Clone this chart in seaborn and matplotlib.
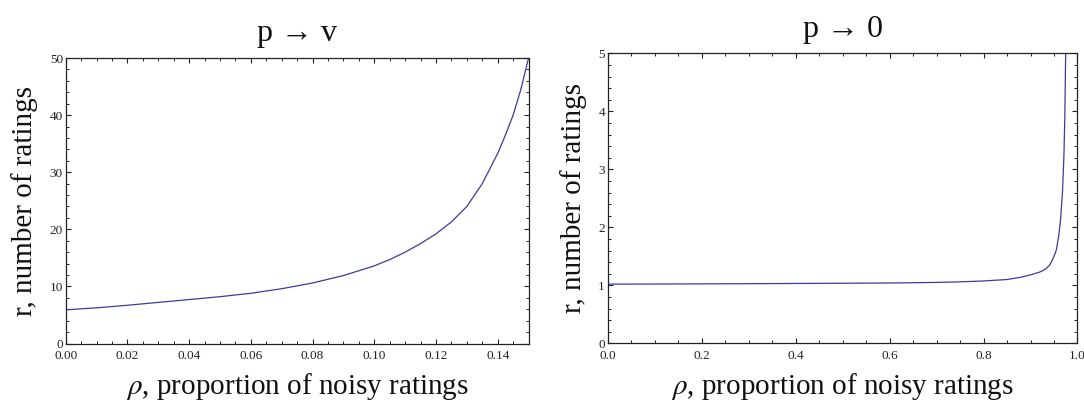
import numpy as np
import pandas as pd
import matplotlib
matplotlib.use("Agg")
import matplotlib.pyplot as plt
import seaborn as sns
from matplotlib.ticker import MultipleLocator, FormatStrFormatter

# ---- data ----
rho_left = [0.0, 0.01, 0.02, 0.03, 0.04, 0.05, 0.06, 0.07, 0.08, 0.09, 0.10,
            0.105, 0.11, 0.115, 0.12, 0.125, 0.13, 0.135, 0.14, 0.1425,
            0.145, 0.1475, 0.15]
r_left = [5.9, 6.25, 6.7, 7.2, 7.7, 8.2, 8.8, 9.6, 10.6, 11.9, 13.6,
          14.7, 16.0, 17.5, 19.2, 21.3, 24.0, 28.0, 33.3, 36.5,
          40.0, 44.5, 50.0]

rho_right = [0.0, 0.1, 0.2, 0.3, 0.4, 0.5, 0.6, 0.7, 0.75, 0.8, 0.85, 0.88,
             0.9, 0.92, 0.93, 0.94, 0.945, 0.95, 0.955, 0.96, 0.963, 0.965,
             0.968, 0.971, 0.973, 0.975, 0.976]
r_right = [1.02, 1.022, 1.025, 1.028, 1.032, 1.036, 1.04, 1.05, 1.06, 1.075,
           1.10, 1.14, 1.18, 1.23, 1.27, 1.34, 1.41, 1.50, 1.61, 1.85, 2.05,
           2.25, 2.6, 3.2, 3.9, 5.1, 6.0]

titles = ["p \u2192 v", "p \u2192 0"]
xlabel = r"$\rho$, proportion of noisy ratings"
ylabel = "r, number of ratings"

sns.set_theme(style="ticks")
plt.rcParams["font.family"] = ["Liberation Serif", "DejaVu Serif"]
plt.rcParams["mathtext.fontset"] = "stix"

line_color = "#3b3b9e"

fig = plt.figure(figsize=(10.84, 4.03), dpi=100)
ax1 = fig.add_axes([0.0606, 0.1476, 0.4270, 0.7084])
ax2 = fig.add_axes([0.5606, 0.1481, 0.4334, 0.7196])

df1 = pd.DataFrame({"rho": rho_left, "r": r_left})
df2 = pd.DataFrame({"rho": rho_right, "r": r_right})

sns.lineplot(data=df1, x="rho", y="r", ax=ax1, color=line_color, lw=0.9)
sns.lineplot(data=df2, x="rho", y="r", ax=ax2, color=line_color, lw=0.9)

ax1.set_xlim(0, 0.15)
ax1.set_ylim(0, 50)
ax1.xaxis.set_major_locator(MultipleLocator(0.02))
ax1.xaxis.set_minor_locator(MultipleLocator(0.005))
ax1.yaxis.set_major_locator(MultipleLocator(10))
ax1.yaxis.set_minor_locator(MultipleLocator(2))
ax1.xaxis.set_major_formatter(FormatStrFormatter("%.2f"))

ax2.set_xlim(0, 1.0)
ax2.set_ylim(0, 5)
ax2.xaxis.set_major_locator(MultipleLocator(0.2))
ax2.xaxis.set_minor_locator(MultipleLocator(0.05))
ax2.yaxis.set_major_locator(MultipleLocator(1))
ax2.yaxis.set_minor_locator(MultipleLocator(0.2))
ax2.xaxis.set_major_formatter(FormatStrFormatter("%.1f"))
ax2.yaxis.set_major_formatter(FormatStrFormatter("%d"))

for ax, t in zip([ax1, ax2], titles):
    for s in ax.spines.values():
        s.set_visible(True)
        s.set_linewidth(0.9)
        s.set_color("#222222")
    ax.tick_params(which="both", direction="in", top=True, right=True,
                   labelsize=9.5, color="#222222", labelcolor="#222222")
    ax.tick_params(axis="x", which="major", pad=5)
    ax.tick_params(axis="y", which="major", pad=2)
    ax.tick_params(which="major", length=3.8, width=0.8)
    ax.tick_params(which="minor", length=2.3, width=0.7)
    ax.set_xlabel(xlabel, fontsize=21, labelpad=6.5, color="#111111")
    ax.set_ylabel(ylabel, fontsize=21, labelpad=8, color="#111111")
    ax.set_title(t, fontsize=23, pad=12, color="#111111")
    ax.set_facecolor("white")

fig.savefig("out.png", dpi=100, facecolor="white")
